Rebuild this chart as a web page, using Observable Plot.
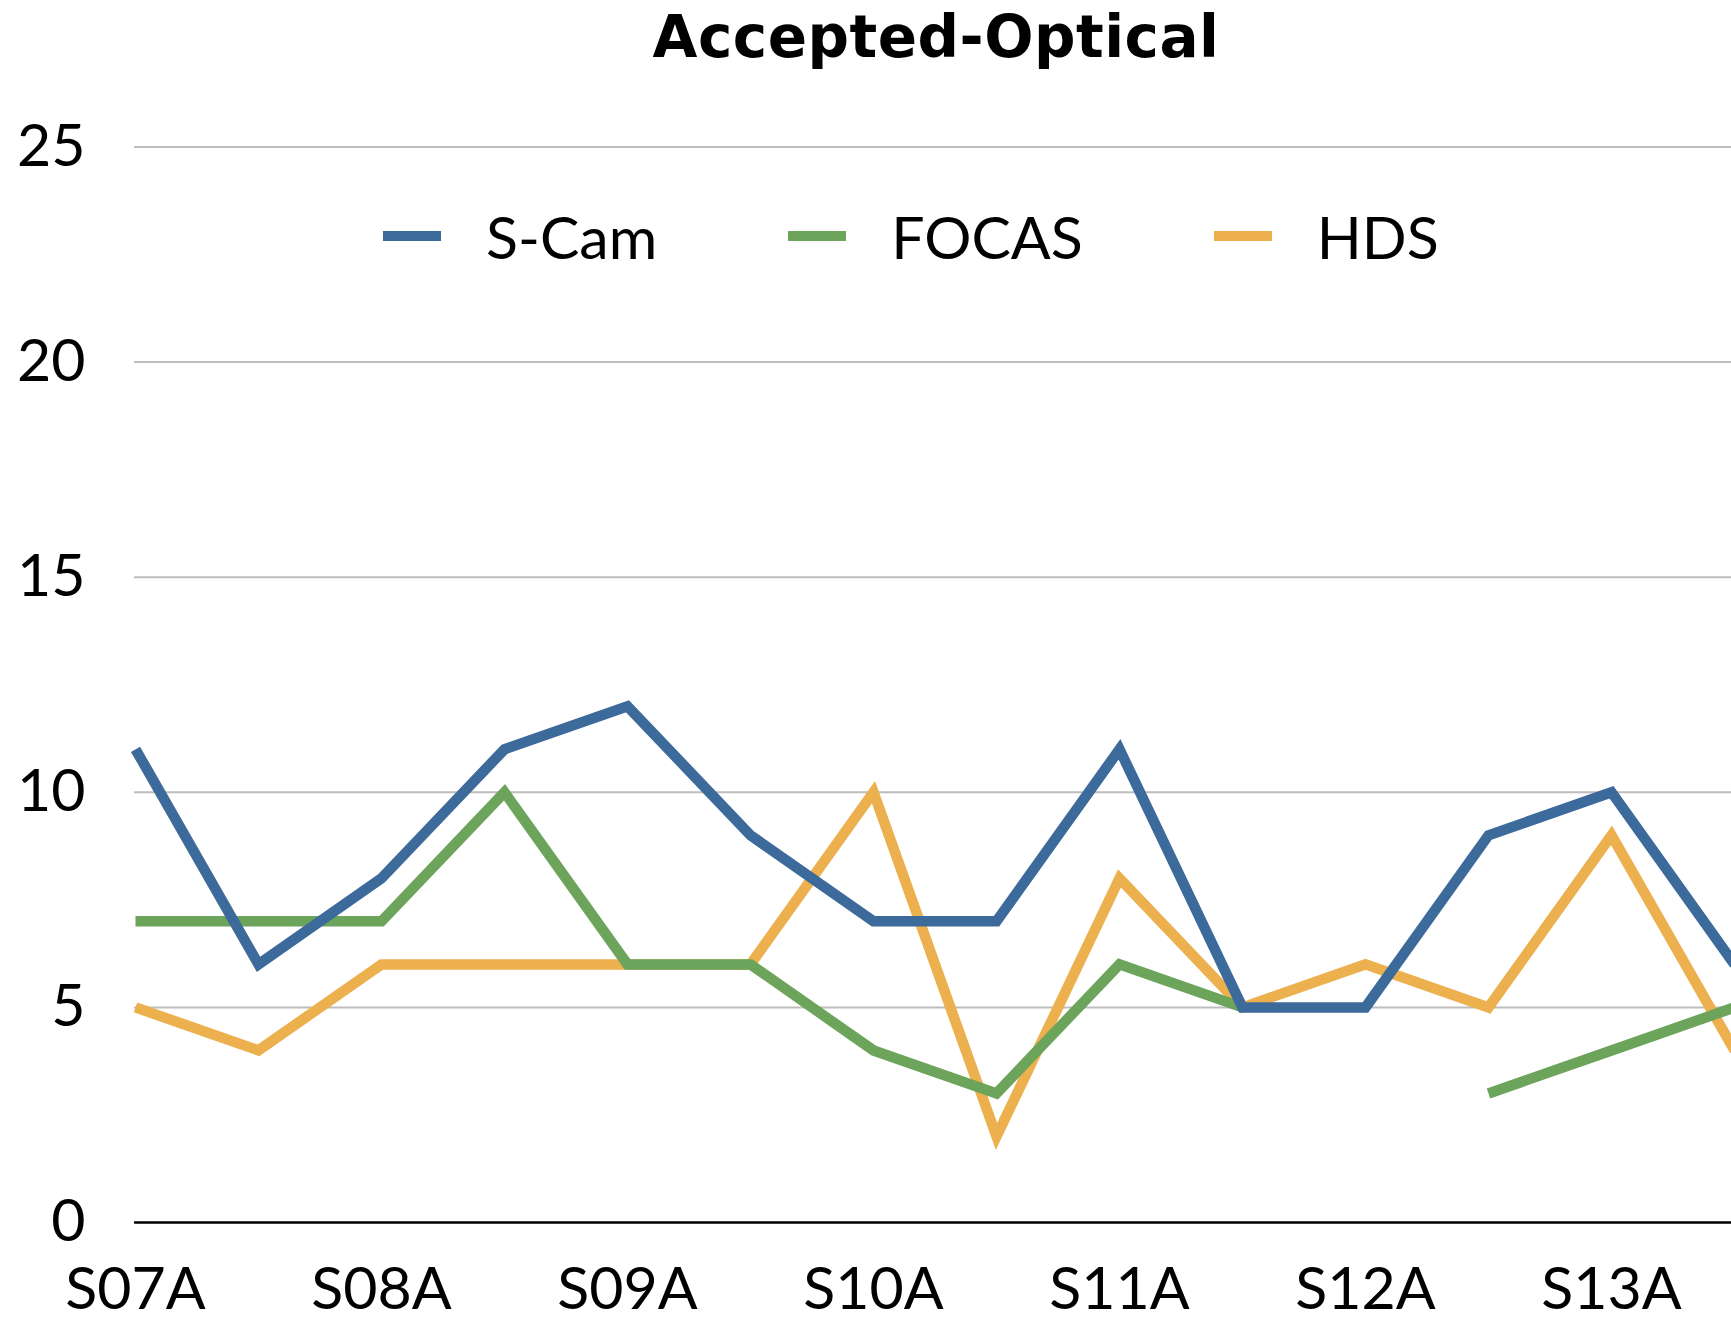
<!DOCTYPE html>
<html>
<head>
<meta charset="utf-8">
<script src="https://cdn.jsdelivr.net/npm/d3@7"></script>
<script src="https://cdn.jsdelivr.net/npm/@observablehq/plot@0.6"></script>
<style>
  html, body { margin: 0; padding: 0; background: #fff; overflow: hidden; }
  body { width: 1731px; height: 1323px; position: relative; font-family: Lato, "Open Sans", sans-serif; }
  #title { position: relative; height: 98px; }
  #title span { position: absolute; left: 936px; top: 8px; transform: translateX(-50%); font-family: "DejaVu Sans", sans-serif; font-weight: 700; font-size: 58px; line-height: 58px; letter-spacing: 0.5px; color: #000; white-space: nowrap; }
  #legend { position: absolute; left: 383px; top: 196px; height: 80px; display: flex; align-items: center; font-size: 59px; line-height: 59px; color: #000; }
  #legend .sw { width: 58px; height: 10px; margin-right: 45px; }
  #legend .lb { margin-right: 131px; }
  #chart svg { display: block; }
</style>
</head>
<body>
<div id="title"><span>Accepted-Optical</span></div>
<div id="chart"></div>
<div id="legend"></div>
<script>
const semesters = ["S07A","S07B","S08A","S08B","S09A","S09B","S10A","S10B","S11A","S11B","S12A","S12B","S13A","S13B"];
const scam  = [11, 6, 8, 11, 12, 9, 7, 7, 11, 5, 5, 9, 10, 6];
const focas = [7, 7, 7, 10, 6, 6, 4, 3, 6, 5, null, 3, 4, 5];
const hds   = [5, 4, 6, 6, 6, 6, 10, 2, 8, 5, 6, 5, 9, 4];
const seriesNames = ["S-Cam", "FOCAS", "HDS"];
const seriesColors = ["#3c6a9b", "#6ba45a", "#edb04e"];
const yTicks = [0, 5, 10, 15, 20, 25];
const xTickLabels = semesters.filter(d => d.endsWith("A"));

const seriesValues = [scam, focas, hds];
const rows = [];
// draw order: HDS bottom, FOCAS, S-Cam top
[2, 1, 0].forEach(si => {
  semesters.forEach((s, i) => rows.push({series: seriesNames[si], semester: s, value: seriesValues[si][i] == null ? NaN : seriesValues[si][i]}));
});

const plot = Plot.plot({
  width: 1731,
  height: 1225,
  marginLeft: 134,
  marginRight: 0,
  marginTop: 48.5,
  marginBottom: 101,
  style: {fontFamily: "Lato, sans-serif", fontSize: "60px", color: "#000", background: "#fff"},
  x: {type: "point", domain: semesters, range: [135, 1736], padding: 0, align: 0},
  y: {domain: [0, 25]},
  color: {domain: seriesNames, range: seriesColors},
  marks: [
    Plot.ruleY(yTicks.filter(d => d > 0), {stroke: "#bdbdbd", strokeWidth: 2}),
    Plot.ruleY([0], {stroke: "#000", strokeWidth: 2.5}),
    Plot.line(rows, {x: "semester", y: "value", z: "series", stroke: "series", strokeWidth: 10.5, strokeLinejoin: "miter", strokeLinecap: "butt", strokeMiterlimit: 10}),
    Plot.axisY({ticks: yTicks, tickSize: 0, tickPadding: 49, label: null, fontSize: 59}),
    Plot.axisX({ticks: xTickLabels, tickSize: 0, tickPadding: 45, label: null, fontSize: 59})
  ]
});
document.getElementById("chart").appendChild(plot);

const legend = document.getElementById("legend");
seriesNames.forEach((n, i) => {
  const sw = document.createElement("div");
  sw.className = "sw";
  sw.style.background = seriesColors[i];
  const lb = document.createElement("div");
  lb.className = "lb";
  lb.textContent = n;
  legend.appendChild(sw);
  legend.appendChild(lb);
});
</script>
</body>
</html>
